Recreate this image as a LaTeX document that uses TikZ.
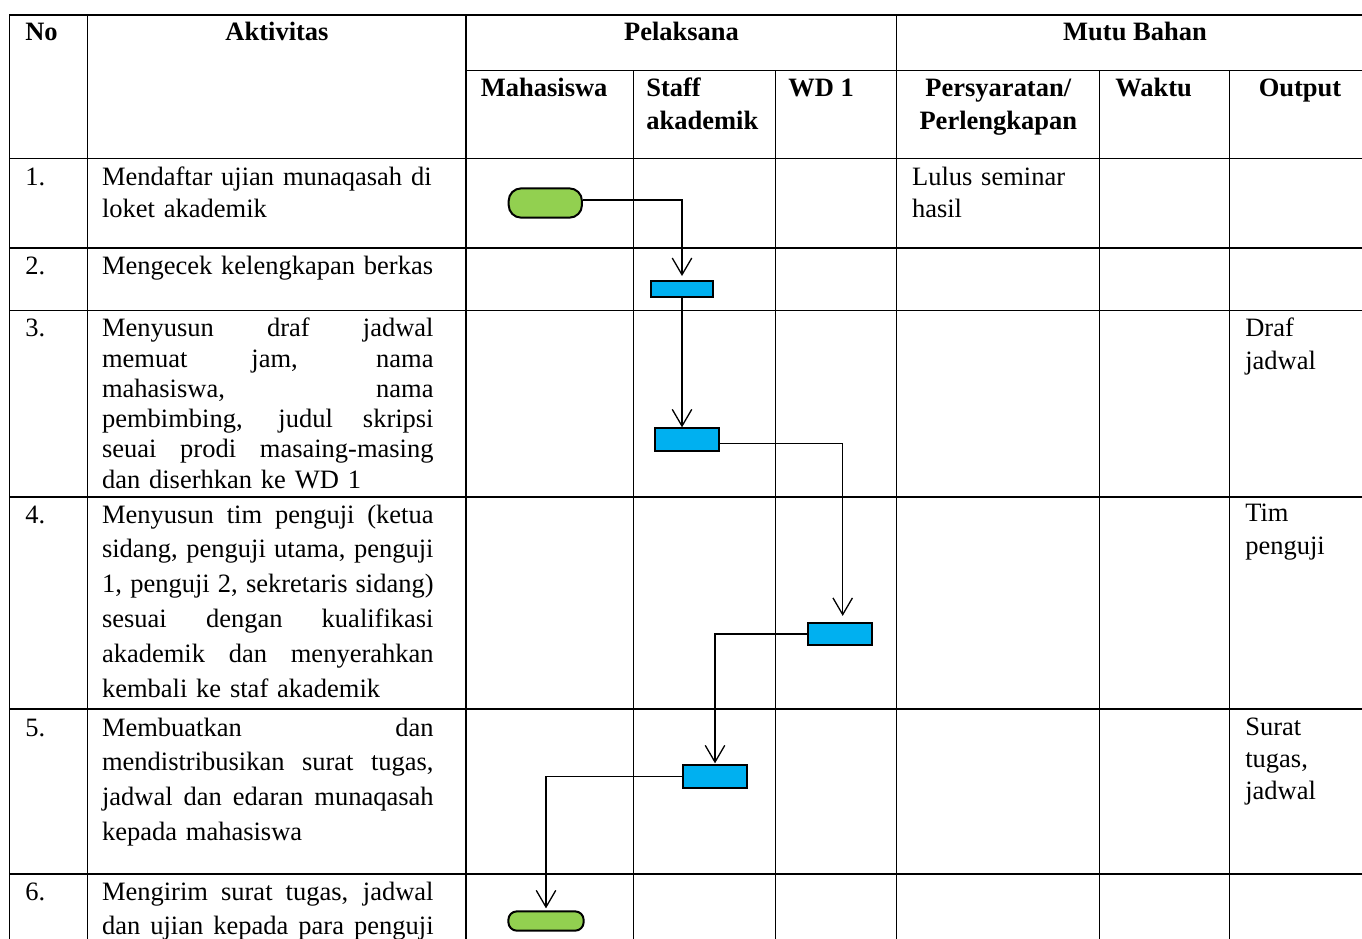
\documentclass[tikz,border=0pt]{standalone}
\usepackage{fontspec}
\setmainfont{Liberation Serif}
\usepackage{xcolor}
\definecolor{termGreen}{HTML}{92D050}
\definecolor{actBlue}{HTML}{00B0F0}
\usepackage{tikz}
\usetikzlibrary{calc,arrows.meta}
\newlength\aktw
\setlength\aktw{6.632cm}
\newcommand\jl[1]{\makebox[\aktw][s]{\spaceskip=\fontdimen2\font plus 1fil\relax#1}}

\begin{document}
\begin{tikzpicture}[x=0.02cm, y=-0.02cm,
    grid/.style={line width=0.028cm},
    cell/.style={anchor=base west, inner sep=0pt, align=left,
      font=\fontsize{15.08}{#1}\selectfont},
    cell/.default=18.7,
    akt/.style={cell=#1, text width=\aktw},
    akt/.default=18.7,
    head/.style={anchor=base, inner sep=0pt, align=center,
      font=\fontsize{15.08}{19.3}\selectfont\bfseries},
    termnode/.style={draw, fill=termGreen, line width=0.04cm, inner sep=0pt, rounded corners=#1},
    actbox/.style={draw, fill=actBlue, line width=0.04cm, inner sep=0pt,
      minimum width=1.28cm, minimum height=0.446cm},
    flow/.style={-{Straight Barb[length=0.334cm,width=0.39cm]}, line width=0.026cm}]
  \useasboundingbox (0,0) rectangle (1362,938);
  \clip (0,0) rectangle (1362,938);
  % ---- table grid ----
  \foreach \x in {9.3,87.7,466,896.7}
    \draw[grid] (\x,15) -- (\x,945);
  \foreach \x in {633.3,775.7,1099.7,1229.7}
    \draw[grid] (\x,70.7) -- (\x,945);
  \draw[grid] (9.3,15) -- (1370,15);
  \draw[grid] (466,70.7) -- (1370,70.7);
  \foreach \y in {158.3,248,310.5,497,709,874}
    \draw[grid] (9.3,\y) -- (1370,\y);
  % ---- header ----
  \node[head, anchor=base west] (hNo) at (25,40) {No};
  \node[head] (hAkt) at (277,40) {Aktivitas};
  \node[head] (hPel) at (681.5,40) {Pelaksana};
  \node[head] (hMutu) at (1135,40) {Mutu Bahan};
  \node[head, anchor=base west] (hMhs) at (480.5,96) {Mahasiswa};
  \node[head, anchor=base west, align=left, text width=2.7cm] (hStaff) at (646,96) {Staff\\akademik};
  \node[head, anchor=base west] (hWD) at (788,96) {WD 1};
  \node[head, text width=3.9cm] (hSyarat) at (998.3,96) {Persyaratan/\\Perlengkapan};
  \node[head, anchor=base west] (hWaktu) at (1115,96) {Waktu};
  \node[head] (hOut) at (1300,96) {Output};
  % ---- numbers ----
  \foreach \n/\b in {1/185,2/274,3/336.7,4/523,5/736,6/900}
    \node[cell] (no\n) at (25,\b) {\n.};
  % ---- aktivitas ----
  \node[akt] (akt1) at (101.7,185) {Mendaftar ujian munaqasah di\\loket akademik};
  \node[akt] (akt2) at (101.7,274) {Mengecek kelengkapan berkas};
  \node[akt=17.24pt] (akt3) at (101.7,336.7)
    {\jl{Menyusun draf jadwal}\\\jl{memuat jam, nama}\\\jl{mahasiswa, nama}\\
     \jl{pembimbing, judul skripsi}\\\jl{seuai prodi masaing-masing}\\dan diserhkan ke WD 1};
  \node[akt=19.84pt] (akt4) at (101.7,523)
    {\jl{Menyusun tim penguji (ketua}\\\jl{sidang, penguji utama, penguji}\\
     \jl{1, penguji 2, sekretaris sidang)}\\\jl{sesuai dengan kualifikasi}\\
     \jl{akademik dan menyerahkan}\\kembali ke staf akademik};
  \node[akt=19.84pt] (akt5) at (101.7,736)
    {\jl{Membuatkan dan}\\\jl{mendistribusikan surat tugas,}\\
     \jl{jadwal dan edaran munaqasah}\\kepada mahasiswa};
  \node[akt=19.84pt] (akt6) at (101.7,900)
    {\jl{Mengirim surat tugas, jadwal}\\\jl{dan ujian kepada para penguji}};
  % ---- mutu bahan ----
  \node[cell, text width=3.8cm] (syarat1) at (911.7,185) {Lulus seminar\\hasil};
  \node[cell, text width=2.4cm] (out3) at (1245,336.7) {Draf\\jadwal};
  \node[cell, text width=2.4cm] (out4) at (1245,521.7) {Tim\\penguji};
  \node[cell=18.4pt, text width=2.4cm] (out5) at (1245,735) {Surat\\tugas,\\jadwal};
  % ---- flow ----
  \node[termnode=0.25cm, minimum width=1.466cm, minimum height=0.586cm] (start) at (545.3,203) {};
  \node[actbox, minimum width=1.254cm, minimum height=0.32cm] (cek) at (682,289) {};
  \node[actbox] (draf) at (687,439.5) {};
  \node[actbox] (tim) at (839.7,634) {};
  \node[actbox] (surat) at (715,776.5) {};
  \node[termnode=0.17cm, minimum width=1.506cm, minimum height=0.386cm] (finish) at (546,921) {};
  \draw[flow] ($(start.east)+(0,-3)$) -| ($(cek.north)+(0,-4)$);
  \draw[flow] (cek.south) -- (cek.south |- draf.north);
  \draw[flow] ($(draf.east)+(0,4)$) -| ($(tim.north)+(3,-6)$);
  \draw[flow] (tim.west) -| ($(surat.north)+(0,-1)$);
  \draw[flow] (surat.west) -| ($(finish.north)+(0,-2)$);
\end{tikzpicture}
\end{document}
